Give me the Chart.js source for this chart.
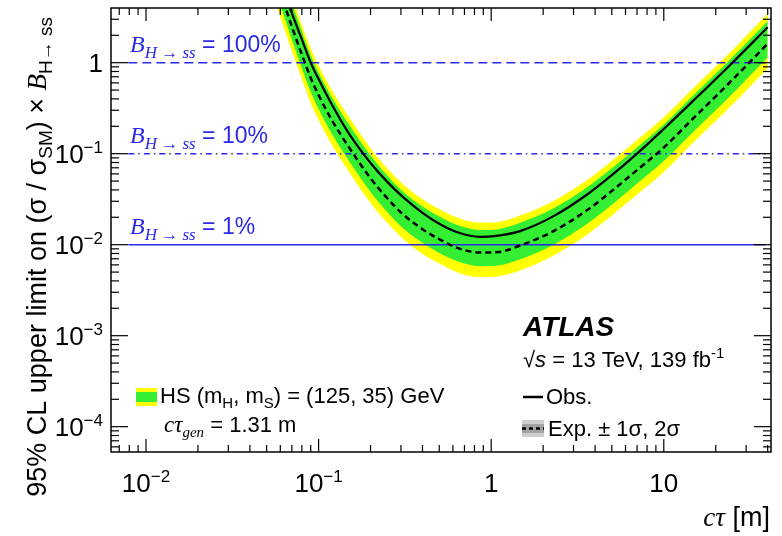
<!DOCTYPE html>
<html>
<head>
<meta charset="utf-8">
<script src="https://cdn.jsdelivr.net/npm/chart.js@4.4.1/dist/chart.umd.min.js"></script>
<style>
  html, body { margin: 0; padding: 0; background: #fff; }
  canvas { display: block; }
</style>
</head>
<body>
<canvas id="c" width="782" height="536"></canvas>
<script>
// c*tau [m] sampling points
const ctau     = [0.055, 0.06, 0.07, 0.08, 0.09, 0.1, 0.12, 0.15, 0.2, 0.25, 0.31, 0.4, 0.5, 0.65, 0.86, 1.1, 1.47, 2.3, 3.6, 5, 7, 10, 15, 25, 40];
const observed = [11.7, 7.5, 3.5, 1.8, 1.0, 0.66, 0.34, 0.166, 0.079, 0.049, 0.0331, 0.0224, 0.017, 0.0135, 0.0122, 0.0126, 0.0141, 0.0206, 0.0356, 0.058, 0.1, 0.187, 0.39, 1.0, 2.45];
const expected = [9.8, 6.0, 2.5, 1.23, 0.68, 0.44, 0.23, 0.1175, 0.0537, 0.0324, 0.0214, 0.0148, 0.0115, 0.0091, 0.0082, 0.0083, 0.0098, 0.0141, 0.024, 0.039, 0.066, 0.117, 0.25, 0.65, 1.62];
const up1sig   = [17.4, 10.7, 4.5, 2.2, 1.2, 0.78, 0.41, 0.209, 0.0955, 0.0575, 0.038, 0.0263, 0.0204, 0.0162, 0.0145, 0.0148, 0.0174, 0.0251, 0.0427, 0.069, 0.117, 0.209, 0.447, 1.15, 2.88];
const up2sig   = [20.9, 12.9, 5.4, 2.6, 1.45, 0.93, 0.49, 0.251, 0.115, 0.069, 0.0457, 0.0316, 0.0245, 0.0195, 0.0175, 0.0178, 0.0209, 0.0302, 0.0513, 0.083, 0.141, 0.251, 0.537, 1.38, 3.47];
const dn1sig   = [6.9, 4.3, 1.8, 0.87, 0.48, 0.31, 0.162, 0.083, 0.038, 0.0229, 0.0151, 0.0105, 0.0081, 0.0065, 0.0058, 0.0059, 0.0069, 0.0100, 0.017, 0.0275, 0.047, 0.083, 0.178, 0.457, 1.15];
const dn2sig   = [5.2, 3.2, 1.35, 0.66, 0.36, 0.234, 0.123, 0.063, 0.0288, 0.0174, 0.0115, 0.0079, 0.0062, 0.0049, 0.0044, 0.0045, 0.0052, 0.0076, 0.0129, 0.0209, 0.0355, 0.063, 0.135, 0.347, 0.87];

// branching-ratio reference lines
const brLevels = [1, 0.1, 0.01];
const brLabels = ['100%', '10%', '1%'];
const brRange = [0.0079, 39];

// axis ticks
const xMajor = [0.01, 0.1, 1, 10];
const xMajorLabels = [['10', '\u22122'], ['10', '\u22121'], ['1', ''], ['10', '']];
const yMajor = [1, 0.1, 0.01, 0.001, 0.0001];
const yMajorLabels = [['1', ''], ['10', '\u22121'], ['10', '\u22122'], ['10', '\u22123'], ['10', '\u22124']];

const SANS = '"Liberation Sans", Arial, sans-serif';
const SERIF = '"Liberation Serif", "Times New Roman", serif';
const BLUE = '#2929e6';

const pts = (ys) => ctau.map((x, i) => ({ x, y: ys[i] }));

function runs(ctx, parts, x, y, align) {
  let w = 0;
  for (const p of parts) { ctx.font = p[1]; w += ctx.measureText(p[0]).width; }
  let cx = align === 'right' ? x - w : align === 'center' ? x - w / 2 : x;
  for (const p of parts) {
    ctx.font = p[1];
    ctx.fillText(p[0], cx, y + (p[2] || 0));
    cx += ctx.measureText(p[0]).width;
  }
}

function seg(ctx, x1, y1, x2, y2) {
  ctx.beginPath(); ctx.moveTo(x1, y1); ctx.lineTo(x2, y2); ctx.stroke();
}

const decor = {
  id: 'decor',
  afterDatasetsDraw(chart) {
    const ctx = chart.ctx, a = chart.chartArea;
    const xs = chart.scales.x, ys = chart.scales.y;
    ctx.save();
    ctx.strokeStyle = '#000';
    ctx.fillStyle = '#000';
    ctx.lineWidth = 1.2;

    // x ticks, bottom and top, pointing inwards
    for (let d = -3; d <= 1; d++) {
      for (let m = 1; m <= 9; m++) {
        const v = m * Math.pow(10, d);
        if (v < xs.min || v > xs.max) continue;
        const px = xs.getPixelForValue(v), len = m === 1 ? 13 : 7;
        seg(ctx, px, a.bottom, px, a.bottom - len);
        seg(ctx, px, a.top, px, a.top + len);
      }
    }
    // y ticks, left and right
    for (let d = -5; d <= 0; d++) {
      for (let m = 1; m <= 9; m++) {
        const v = m * Math.pow(10, d);
        if (v < ys.min || v > ys.max) continue;
        const py = ys.getPixelForValue(v), len = m === 1 ? 17 : 8;
        seg(ctx, a.left, py, a.left + len, py);
        seg(ctx, a.right, py, a.right - len, py);
      }
    }
    ctx.lineWidth = 1.5;
    ctx.strokeRect(a.left, a.top, a.right - a.left, a.bottom - a.top);

    // tick labels
    ctx.textBaseline = 'alphabetic';
    xMajor.forEach((v, i) => {
      const l = xMajorLabels[i];
      runs(ctx, [[l[0], '26px ' + SANS], [l[1], '17px ' + SANS, -10]], xs.getPixelForValue(v), 492, 'center');
    });
    yMajor.forEach((v, i) => {
      const l = yMajorLabels[i];
      runs(ctx, [[l[0], '26px ' + SANS], [l[1], '17px ' + SANS, -10]], a.left - 8, ys.getPixelForValue(v) + 9, 'right');
    });

    // axis titles
    runs(ctx, [['c\u03c4', 'italic 27px ' + SERIF], [' [m]', '27px ' + SANS]], a.right - 1, 526, 'right');
    ctx.save();
    ctx.translate(46, 17);
    ctx.rotate(-Math.PI / 2);
    runs(ctx, [
      ['95% CL upper limit on (\u03c3 / \u03c3', '27px ' + SANS],
      ['SM', '19px ' + SANS, 6],
      [') \u00d7 ', '27px ' + SANS],
      ['B', 'italic 27px ' + SERIF],
      ['H\u2192 ss', '19px ' + SANS, 6]
    ], 0, 0, 'right');
    ctx.restore();

    // branching-ratio labels
    ctx.fillStyle = BLUE;
    brLevels.forEach((v, i) => {
      runs(ctx, [
        ['B', 'italic 24px ' + SERIF],
        ['H \u2192 ss', 'italic 17px ' + SERIF, 6],
        [' = ' + brLabels[i], '23px ' + SANS]
      ], 130, ys.getPixelForValue(v) - 11, 'left');
    });

    // signal legend
    ctx.fillStyle = '#ffff00';
    ctx.fillRect(136, 388, 21, 18);
    ctx.fillStyle = '#33ee33';
    ctx.fillRect(136, 392, 21, 10);
    ctx.fillStyle = '#000';
    runs(ctx, [
      ['HS (m', '22px ' + SANS], ['H', '15px ' + SANS, 5],
      [', m', '22px ' + SANS], ['S', '15px ' + SANS, 5],
      [') = (125, 35) GeV', '22px ' + SANS]
    ], 160, 403, 'left');
    runs(ctx, [
      ['c\u03c4', 'italic 23px ' + SERIF], ['gen', 'italic 15px ' + SERIF, 5],
      [' = 1.31 m', '22px ' + SANS]
    ], 164, 432, 'left');

    // ATLAS label
    ctx.font = 'italic bold 28px ' + SANS;
    ctx.fillText('ATLAS', 523, 336);
    runs(ctx, [
      ['\u221a', '22px ' + SANS], ['s', 'italic 22px ' + SANS],
      [' = 13 TeV, 139 fb', '22px ' + SANS], ['-1', '15px ' + SANS, -9]
    ], 523, 367, 'left');

    // limit legend
    ctx.lineWidth = 2.5;
    seg(ctx, 523, 397, 543, 397);
    runs(ctx, [['Obs.', '22px ' + SANS]], 546, 404, 'left');
    ctx.fillStyle = '#cfcfcf';
    ctx.fillRect(522, 420, 22, 17);
    ctx.fillStyle = '#a3a3a3';
    ctx.fillRect(522, 424, 22, 9);
    ctx.setLineDash([4, 3]);
    seg(ctx, 522, 428.5, 544, 428.5);
    ctx.setLineDash([]);
    ctx.fillStyle = '#000';
    runs(ctx, [['Exp. \u00b1 1\u03c3, 2\u03c3', '22px ' + SANS]], 548, 436, 'left');
    ctx.restore();
  }
};

const band = (ys, color, target, order) => ({
  data: pts(ys), borderWidth: 0, pointRadius: 0, backgroundColor: color,
  fill: target === null ? false : { target }, cubicInterpolationMode: 'monotone', order
});

const brDash = [[9, 5], [6, 4, 1.5, 4], []];
const brSets = brLevels.map((v, i) => ({
  data: brRange.map((x) => ({ x, y: v })), borderColor: BLUE, borderWidth: 1.5,
  borderDash: brDash[i], pointRadius: 0, fill: false, order: 5
}));

new Chart(document.getElementById('c'), {
  type: 'line',
  data: {
    datasets: [
      band(up2sig, '#ffff00', 1, 10),
      band(dn2sig, 'rgba(0,0,0,0)', null, 10),
      band(up1sig, '#33ee33', 3, 9),
      band(dn1sig, 'rgba(0,0,0,0)', null, 9),
      ...brSets,
      { data: pts(expected), borderColor: '#000', borderWidth: 2.5, borderDash: [6, 4],
        pointRadius: 0, fill: false, cubicInterpolationMode: 'monotone', order: 2 },
      { data: pts(observed), borderColor: '#000', borderWidth: 2.2,
        pointRadius: 0, fill: false, cubicInterpolationMode: 'monotone', order: 1 }
    ]
  },
  options: {
    responsive: false,
    animation: false,
    devicePixelRatio: 1,
    layout: { padding: { left: 0, right: 11, top: 8, bottom: 0 } },
    plugins: { legend: { display: false }, tooltip: { enabled: false } },
    scales: {
      x: {
        type: 'logarithmic', min: 0.00627, max: 41.8,
        ticks: { display: false }, grid: { display: false }, border: { display: false },
        afterFit: (s) => { s.height = 84; }
      },
      y: {
        type: 'logarithmic', min: 5.27e-5, max: 3.99,
        ticks: { display: false }, grid: { display: false }, border: { display: false },
        afterFit: (s) => { s.width = 111; }
      }
    }
  },
  plugins: [decor]
});
</script>
</body>
</html>
